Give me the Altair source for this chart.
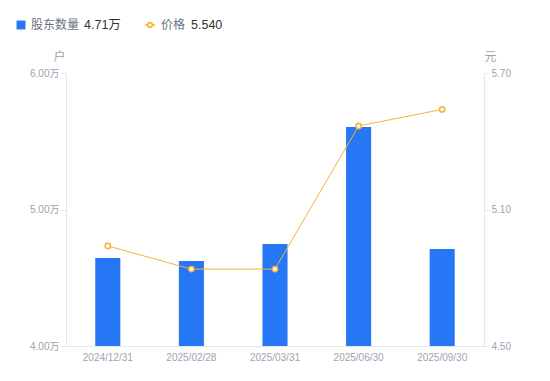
import altair as alt
import pandas as pd

dates = ["2024/12/31", "2025/02/28", "2025/03/31", "2025/06/30", "2025/09/30"]
holders = [4.645, 4.623, 4.747, 5.604, 4.711]   # 万户
prices = [4.94, 4.838, 4.838, 5.467, 5.540]       # 元

BLUE = "#2677F6"
ORANGE = "#F7B23B"
GRAY = "#9CA3AF"
AXIS = "#E5E7EB"
FONT = "Liberation Sans, Noto Sans CJK SC"

df = pd.DataFrame({"date": dates, "holders": holders, "price": prices})

xenc = alt.X("date:N", sort=None,
             scale=alt.Scale(paddingInner=0, paddingOuter=0),
             axis=alt.Axis(title=None, labelAngle=0, labelColor=GRAY, labelFontSize=10,
                           labelFont=FONT, ticks=False, domainColor=AXIS, labelPadding=6))

bars = alt.Chart(df).mark_bar(color=BLUE, width=alt.RelativeBandSize(0.3), clip=True).encode(
    x=xenc,
    y=alt.Y("holders:Q",
            scale=alt.Scale(domain=[4, 6], zero=False, nice=False),
            axis=alt.Axis(values=[4, 5, 6], labelExpr="format(datum.value, '.2f') + '万'",
                          orient="left", grid=False, domainColor=AXIS, tickColor=AXIS,
                          tickSize=5, labelColor=GRAY, labelFontSize=10, labelFont=FONT,
                          title="户", titleAngle=0, titleX=-7, titleY=-10,
                          titleAlign="center", titleBaseline="bottom",
                          titleColor=GRAY, titleFontSize=12, titleFontWeight="normal",
                          titleFont=FONT)),
)

yprice = alt.Y("price:Q",
               scale=alt.Scale(domain=[4.5, 5.7], zero=False, nice=False),
               axis=alt.Axis(values=[4.5, 5.1, 5.7], format=".2f", orient="right",
                             grid=False, domainColor=AXIS, tickColor=AXIS, tickSize=5,
                             labelColor=GRAY, labelFontSize=10, labelFont=FONT,
                             title="元", titleAngle=0, titleX=6, titleY=-10,
                             titleAlign="center", titleBaseline="bottom",
                             titleColor=GRAY, titleFontSize=12, titleFontWeight="normal",
                             titleFont=FONT))

line = alt.Chart(df).mark_line(color=ORANGE, strokeWidth=1).encode(x=xenc, y=yprice)
pts = alt.Chart(df).mark_point(color=ORANGE, filled=False, fill="white", fillOpacity=1,
                               size=28, strokeWidth=1.6, opacity=1).encode(x=xenc, y=yprice)
price_layer = alt.layer(line, pts)

# legend
leg_df = pd.DataFrame({"a": [0]})
leg_y = -48
sq = alt.Chart(leg_df).mark_square(color=BLUE, size=80, opacity=1).encode(
    x=alt.value(-45), y=alt.value(leg_y))
t1 = alt.Chart(leg_df).mark_text(text="股东数量", align="left", baseline="middle",
                                 fontSize=12, color="#6B7280", font=FONT).encode(
    x=alt.value(-35), y=alt.value(leg_y))
t2 = alt.Chart(leg_df).mark_text(text=f"{holders[-1]:.2f}万", align="left", baseline="middle",
                                 fontSize=12.5, color="#333333", font=FONT).encode(
    x=alt.value(18), y=alt.value(leg_y))
lg = alt.Chart(leg_df).mark_rule(color=ORANGE, strokeWidth=1.5).encode(
    x=alt.value(79), x2=alt.value(89), y=alt.value(leg_y))
lp = alt.Chart(leg_df).mark_point(color=ORANGE, filled=False, fill="white", fillOpacity=1,
                                  size=22, strokeWidth=1.6, opacity=1).encode(
    x=alt.value(84), y=alt.value(leg_y))
t3 = alt.Chart(leg_df).mark_text(text="价格", align="left", baseline="middle",
                                 fontSize=12, color="#6B7280", font=FONT).encode(
    x=alt.value(95), y=alt.value(leg_y))
t4 = alt.Chart(leg_df).mark_text(text=f"{prices[-1]:.3f}", align="left", baseline="middle",
                                 fontSize=12.5, color="#333333", font=FONT).encode(
    x=alt.value(125), y=alt.value(leg_y))
legend = alt.layer(sq, t1, t2, lg, lp, t3, t4)

chart = alt.layer(bars, price_layer, legend).resolve_scale(y="independent").properties(
    width=418, height=273,
    autosize=alt.AutoSizeParams(type="none"),
    padding={"left": 58, "top": 65, "right": 50, "bottom": 30},
).configure_view(stroke=None)

chart.save("out.html", embed_options={"renderer": "svg", "actions": False})
